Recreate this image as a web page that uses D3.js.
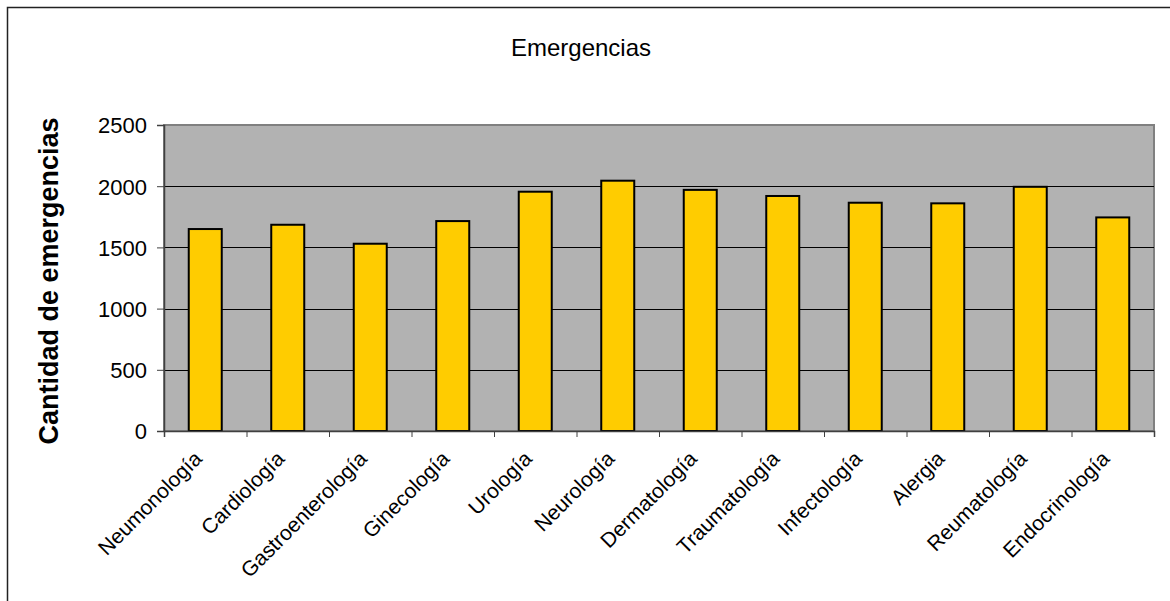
<!DOCTYPE html>
<html>
<head>
<meta charset="utf-8">
<script src="https://cdn.jsdelivr.net/npm/d3@7"></script>
<style>
  html, body { margin: 0; padding: 0; background: #fff; }
  svg { display: block; }
  text { font-family: "Liberation Sans", Arial, sans-serif; fill: #000; }
</style>
</head>
<body>
<svg id="chart" width="1170" height="601"></svg>
<script>
// Emergencias por especialidad
const categories = [
  "Neumonología", "Cardiología", "Gastroenterología", "Ginecología",
  "Urología", "Neurología", "Dermatología", "Traumatología",
  "Infectología", "Alergia", "Reumatología", "Endocrinología"
];
const emergencias = [1650, 1685, 1530, 1715, 1955, 2045, 1970, 1920, 1865, 1860, 1995, 1745];
const yTicks = [0, 500, 1000, 1500, 2000, 2500];

const chartTitle = "Emergencias";
const yTitle = "Cantidad de emergencias";

const svg = d3.select("#chart");
const W = 1170, H = 601;
const plot = { left: 164, right: 1154, top: 125, bottom: 431 };

// outer frame
svg.append("rect")
  .attr("x", 7.5).attr("y", 7.5)
  .attr("width", W + 20).attr("height", H + 20)
  .attr("fill", "#fff").attr("stroke", "#222").attr("stroke-width", 1.5);

const x = d3.scaleBand()
  .domain(categories)
  .range([plot.left, plot.right])
  .paddingInner(0.6).paddingOuter(0.3);

const y = d3.scaleLinear()
  .domain([0, 2500])
  .range([plot.bottom, plot.top]);

// plot background
svg.append("rect")
  .attr("x", plot.left).attr("y", plot.top)
  .attr("width", plot.right - plot.left).attr("height", plot.bottom - plot.top)
  .attr("fill", "#b2b2b2")
  .attr("stroke", "#808080").attr("stroke-width", 2);

// horizontal gridlines
svg.append("g")
  .selectAll("line")
  .data(yTicks.filter(d => d > 0 && d < 2500))
  .join("line")
  .attr("x1", plot.left).attr("x2", plot.right)
  .attr("y1", d => Math.round(y(d)) + 0.5).attr("y2", d => Math.round(y(d)) + 0.5)
  .attr("stroke", "#000").attr("stroke-width", 1);

// bars
svg.append("g")
  .selectAll("rect")
  .data(categories.map((c, i) => ({ c, v: emergencias[i] })))
  .join("rect")
  .attr("x", d => x(d.c))
  .attr("y", d => y(d.v))
  .attr("width", x.bandwidth())
  .attr("height", d => y(0) - y(d.v))
  .attr("fill", "#ffcc00")
  .attr("stroke", "#000").attr("stroke-width", 2);

// y axis
const yAxis = svg.append("g")
  .attr("transform", `translate(${plot.left},0)`)
  .call(d3.axisLeft(y).tickValues(yTicks).tickSize(7).tickPadding(10).tickFormat(d3.format("d")));
yAxis.select(".domain").attr("stroke", "#404040").attr("stroke-width", 1.5);
yAxis.selectAll(".tick line").attr("stroke", "#404040");
yAxis.selectAll(".tick text")
  .style("font-size", "22px")
  .attr("font-family", null)
  .attr("dy", "0.36em");

// x axis with ticks at category boundaries
const xBoundary = d3.scaleLinear().domain([0, categories.length]).range([plot.left, plot.right]);
const xAxis = svg.append("g")
  .attr("transform", `translate(0,${plot.bottom})`)
  .call(d3.axisBottom(xBoundary).tickValues(d3.range(categories.length + 1)).tickSize(6).tickFormat(""));
xAxis.select(".domain").attr("stroke", "#404040").attr("stroke-width", 1.5);
xAxis.selectAll(".tick line").attr("stroke", "#404040");

// rotated category labels
svg.append("g")
  .selectAll("text")
  .data(categories)
  .join("text")
  .attr("transform", d => `translate(${x(d) + x.bandwidth() / 2 - 2},${plot.bottom + 29}) rotate(-45)`)
  .attr("text-anchor", "end")
  .style("font-size", "21px")
  .text(d => d);

// chart title
svg.append("text")
  .attr("x", 581).attr("y", 56)
  .attr("text-anchor", "middle")
  .style("font-size", "24px")
  .text(chartTitle);

// y axis title
svg.append("text")
  .attr("transform", `translate(58,${(plot.top + plot.bottom) / 2 + 3}) rotate(-90)`)
  .attr("text-anchor", "middle")
  .style("font-size", "27px")
  .style("font-weight", "bold")
  .text(yTitle);
</script>
</body>
</html>
